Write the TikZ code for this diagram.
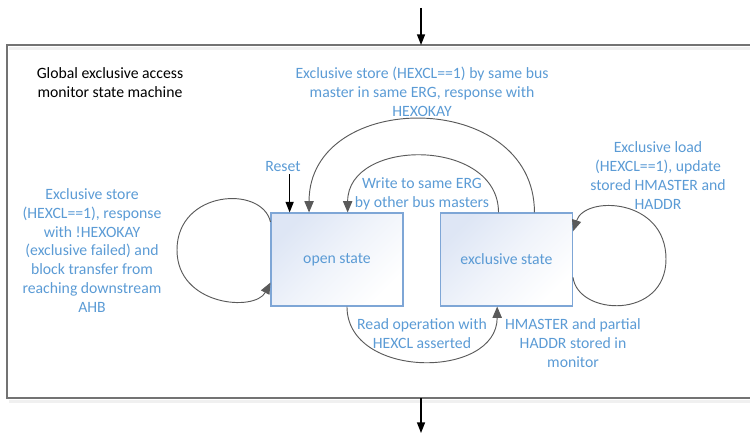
\documentclass[tikz,border=0pt]{standalone}
\usepackage{fontspec}
\setmainfont{Carlito}
\usetikzlibrary{arrows.meta,calc}
\definecolor{txtblue}{RGB}{91,155,213}
\definecolor{boxblue}{RGB}{126,166,214}
\definecolor{boxtop}{RGB}{222,230,245}
\definecolor{linegrey}{RGB}{90,90,90}
\definecolor{framegrey}{RGB}{115,115,115}
\begin{document}
\begin{tikzpicture}[x=0.75pt,y=-0.75pt,
  lbl/.style={text=txtblue, font=\fontsize{11.8}{14.2}\selectfont, align=center, inner sep=0pt},
  ttl/.style={text=black, font=\fontsize{11.8}{14.2}\selectfont, align=center, inner sep=0pt},
  statebox/.style={draw=boxblue, line width=0.8pt, minimum width=99pt, minimum height=69.75pt,
    top color=boxtop, bottom color=white, middle color=white!55!boxtop, shading angle=45, text=txtblue,
    font=\fontsize{11.8}{14.2}\selectfont, inner sep=0pt},
  conn/.style={draw=linegrey, line width=0.7pt, -{Triangle[length=8.5pt,width=7pt]}},
  blackarrow/.style={draw=black, line width=1.1pt, -{Triangle[length=8pt,width=6pt]}},
  framestyle/.style={draw=framegrey, line width=0.9pt}
]
\useasboundingbox (0,0) rectangle (750,435);
\clip (0,0) rectangle (750,435);
% frame
\draw[white!94!black, line width=2.5pt] (9,48.5) -- (760,48.5);
\draw[white!94!black, line width=2.5pt] (9,401.5) -- (760,401.5);
\draw[framestyle] (760,45) -- (7,45) -- (7,398) -- (760,398);
% states
\node[statebox] (open) at (337,259.5) {open state};
\node[statebox] (excl) at (506.5,259.5) {exclusive state};
% outside arrows
\coordinate (topin) at (421,8);
\coordinate (frametop) at (421,45);
\coordinate (framebot) at (421,398);
\coordinate (botout) at (421,433);
\draw[blackarrow] (topin) -- (frametop);
\draw[blackarrow] (framebot) -- (botout);
% reset
\coordinate (rst) at ($(open.north west)!0.144!(open.north east)$);
\coordinate (rstsrc) at ($(rst)+(0,-38)$);
\draw[blackarrow] (rstsrc) -- (rst);
\node[lbl] (resetlbl) at (283,167) {Reset};
% title
\node[ttl] (title) at (110,82.5) {Global exclusive access\\monitor state machine};
% big arc
\coordinate (e1) at ($(excl.north west)!0.71!(excl.north east)$);
\coordinate (o1) at ($(open.north west)!0.29!(open.north east)$);
\draw[conn] (e1) .. controls ($(e1)+(0,-124)$) and ($(o1)+(0,-124)$) .. (o1);
\node[lbl] (bigl) at (422,92) {Exclusive store (HEXCL==1) by same bus\\master in same ERG, response with\\HEXOKAY};
% small arc
\coordinate (e2) at ($(excl.north west)!0.44!(excl.north east)$);
\coordinate (o2) at ($(open.north west)!0.58!(open.north east)$);
\draw[conn] (e2) .. controls ($(e2)+(0,-75)$) and ($(o2)+(0,-75)$) .. (o2);
\node[lbl] (smalll) at (422,194) {Write to same ERG\\by other bus masters};
% bottom arc
\coordinate (o3) at ($(open.south west)!0.575!(open.south east)$);
\coordinate (e3) at ($(excl.south west)!0.43!(excl.south east)$);
\draw[conn] (o3) .. controls ($(o3)+(0,73)$) and ($(e3)+(0,73)$) .. (e3);
\node[lbl] (botl) at (422,333.5) {Read operation with\\HEXCL asserted};
% left self loop
\coordinate (ol1) at ($(open.north west)!0.1!(open.south west)$);
\coordinate (ol2) at ($(open.north west)!0.745!(open.south west)$);
\draw[conn] (ol1) .. controls (262,185) and (177,190) .. (177,250)
  .. controls (177,306) and (255,312) .. (ol2);
\node[lbl] (leftl) at (92,250.5) {Exclusive store\\(HEXCL==1), response\\with !HEXOKAY\\(exclusive failed) and\\block transfer from\\reaching downstream\\AHB};
% right self loop
\coordinate (er1) at ($(excl.north east)!0.69!(excl.south east)$);
\coordinate (er2) at ($(excl.north east)!0.2!(excl.south east)$);
\draw[conn] (er1) .. controls (578,316) and (666,320) .. (666,259)
  .. controls (666,198) and (585,195) .. (er2);
\node[lbl] (rtopl) at (658,175.5) {Exclusive load\\(HEXCL==1), update\\stored HMASTER and\\HADDR};
\node[lbl] (rbotl) at (573,343) {HMASTER and partial\\HADDR stored in\\monitor};
\end{tikzpicture}
\end{document}
